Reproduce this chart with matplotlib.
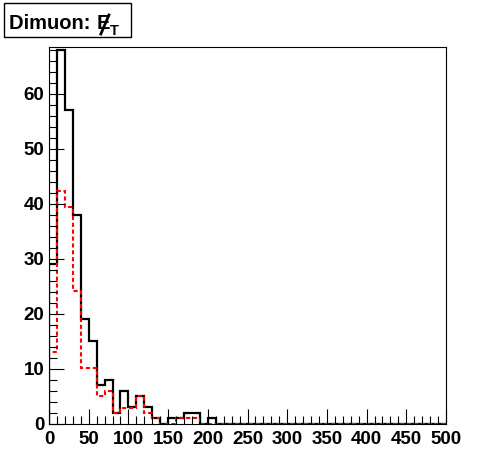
import numpy as np
import matplotlib
matplotlib.use("Agg")
import matplotlib.pyplot as plt
from matplotlib.lines import Line2D
from matplotlib.ticker import MultipleLocator

# 10 GeV bins from 0 to 500
edges = np.arange(0, 510, 10)

black_counts = [29, 68, 57, 38, 19, 15, 7, 8, 2, 6,
                3, 5, 3, 1, 0, 1, 1, 2, 2, 0,
                1] + [0] * 29
red_counts = [13.1, 42.4, 39.4, 24.2, 10.1, 10.1, 5.1, 6.0, 2.0, 2.9,
              2.9, 5.0, 2.0, 1.0, 0, 0, 1.0, 1.0, 1.0, 0] + [0] * 30

x_ticks = [0, 50, 100, 150, 200, 250, 300, 350, 400, 450, 500]
y_ticks = [0, 10, 20, 30, 40, 50, 60]
title_text = "Dimuon: "

plt.rcParams["font.family"] = ["Liberation Sans", "DejaVu Sans"]

W, H = 496, 472
fig = plt.figure(figsize=(W / 100, H / 100), dpi=100)
ax = fig.add_axes([49 / W, 48 / H, 397 / W, 377 / H])

ax.stairs(black_counts, edges, color="black", linewidth=1.6)
ax.stairs(red_counts, edges, color="red", linewidth=1.5, linestyle=(0, (2, 1.3)))

ax.set_xlim(0, 500)
ax.set_ylim(0, 68.5)
ax.set_xticks(x_ticks)
ax.set_yticks(y_ticks)
ax.xaxis.set_minor_locator(MultipleLocator(10))
ax.yaxis.set_minor_locator(MultipleLocator(2))
ax.tick_params(which="both", direction="in", top=False, right=False,
               labelsize=13.5, width=0.8)
ax.tick_params(which="major", length=11)
ax.tick_params(which="minor", length=5.5)
ax.tick_params(axis="x", pad=5)
ax.tick_params(axis="y", pad=3.5)
for lab in ax.get_xticklabels() + ax.get_yticklabels():
    lab.set_fontweight("bold")
for sp in ax.spines.values():
    sp.set_linewidth(0.8)

# title box in ROOT style
box = plt.Rectangle((4 / W, 1 - 37 / H), 127 / W, 34 / H,
                    transform=fig.transFigure, facecolor="white",
                    edgecolor="black", linewidth=1.0)
fig.patches.append(box)
t = fig.text(9 / W, 1 - 29 / H, title_text, fontsize=14.5,
             fontweight="bold", va="baseline", ha="left")
fig.canvas.draw()
bb = t.get_window_extent()
e = fig.text(bb.x1 / W, 1 - 29 / H, "E", fontsize=14.5, fontweight="bold",
             va="baseline", ha="left")
fig.canvas.draw()
eb = e.get_window_extent()
# slash through the E (missing E_T)
x0, x1 = eb.x0 + 0.35 * eb.width, eb.x1 - 0.05 * eb.width
y0, y1 = (H - 34), (H - 15)
fig.add_artist(Line2D([x0 / W, x1 / W], [y0 / H, y1 / H],
                      transform=fig.transFigure, color="black", linewidth=2.0))
fig.text(eb.x1 / W, 1 - 35 / H, "T", fontsize=10.5, fontweight="bold",
         va="baseline", ha="left")

fig.savefig("out.png", dpi=100)
